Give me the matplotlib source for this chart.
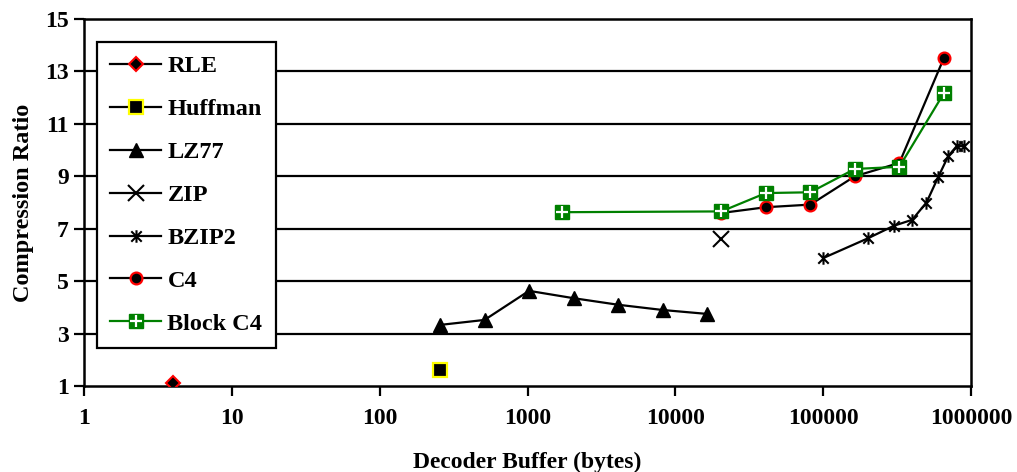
import matplotlib
matplotlib.use("Agg")
import matplotlib.pyplot as plt
from matplotlib.path import Path
from matplotlib.legend_handler import HandlerTuple

rle_x = [4]
rle_y = [1.1]
huff_x = [256]
huff_y = [1.6]
lz77_x = [256, 512, 1024, 2048, 4096, 8192, 16384]
lz77_y = [3.33, 3.52, 4.63, 4.35, 4.1, 3.9, 3.75]
zip_x = [20480]
zip_y = [6.6]
bzip2_x = [100000, 200000, 300000, 400000, 500000, 600000, 700000, 800000, 900000]
bzip2_y = [5.88, 6.63, 7.11, 7.34, 8.0, 8.97, 9.76, 10.15, 10.15]
c4_x = [20480, 40960, 81920, 163840, 327680, 655360]
c4_y = [7.6, 7.82, 7.92, 9.0, 9.51, 13.51]
bc4_x = [1700, 20480, 40960, 81920, 163840, 327680, 655360]
bc4_y = [7.63, 7.66, 8.36, 8.39, 9.28, 9.36, 12.17]

x_ticks = [1, 10, 100, 1000, 10000, 100000, 1000000]
x_labels = ["1", "10", "100", "1000", "10000", "100000", "1000000"]
y_ticks = [1, 3, 5, 7, 9, 11, 13, 15]

plt.rcParams['font.family'] = ['Liberation Serif', 'DejaVu Serif']
plt.rcParams['font.weight'] = 'bold'

fig = plt.figure(figsize=(10.17, 4.72), dpi=100)
ax = fig.add_axes([84/1017, 1-386/472, (971-84)/1017, (386-19)/472])

star = Path([(-1, -1), (1, 1), (-1, 1), (1, -1), (0, -1.2), (0, 1.2)],
            [Path.MOVETO, Path.LINETO, Path.MOVETO, Path.LINETO, Path.MOVETO, Path.LINETO])

lw = 1.6
h_rle, = ax.plot(rle_x, rle_y, '-', color='black', lw=lw, marker='D', ms=7.5,
                 mfc='black', mec='red', mew=1.5, label='RLE', zorder=5)
h_huf, = ax.plot(huff_x, huff_y, '-', color='black', lw=lw, marker='s', ms=9.5,
                 mfc='black', mec='#ffff00', mew=1.6, label='Huffman', zorder=5)
h_lz, = ax.plot(lz77_x, lz77_y, '-', color='black', lw=lw, marker='^', ms=9.5,
                mfc='black', mec='black', label='LZ77', zorder=5)
h_zip, = ax.plot(zip_x, zip_y, '-', color='black', lw=lw, marker='x', ms=11,
                 mec='black', mew=1.5, label='ZIP', zorder=5)
h_bz, = ax.plot(bzip2_x, bzip2_y, '-', color='black', lw=lw, marker=star, ms=9,
                mec='black', mew=1.5, label='BZIP2', zorder=5)
h_c4, = ax.plot(c4_x, c4_y, '-', color='black', lw=lw, marker='o', ms=8.5,
                mfc='black', mec='red', mew=1.6, label='C4', zorder=5)
h_bc4, = ax.plot(bc4_x, bc4_y, '-', color='#008000', lw=lw, marker='s', ms=10,
                 mfc='#008000', mec='#008000', zorder=6)
h_bc4p, = ax.plot(bc4_x, bc4_y, 'none', marker='+', ms=8, mec='white', mew=1.6, zorder=7)

ax.set_xscale('log')
ax.set_xlim(1, 1000000)
ax.set_ylim(1, 15)
ax.set_xticks(x_ticks)
ax.set_xticklabels(x_labels)
ax.minorticks_off()
ax.set_yticks(y_ticks)
for yv in y_ticks[1:-1]:
    ax.axhline(yv, color='black', lw=1.6, zorder=1)

for s in ax.spines.values():
    s.set_linewidth(1.8)
ax.tick_params(axis='both', direction='out', length=7, width=1.6, labelsize=17, pad=9)
ax.tick_params(axis='y', pad=4)
for t in ax.get_xticklabels() + ax.get_yticklabels():
    t.set_fontweight('bold')

ax.set_xlabel('Decoder Buffer (bytes)', fontsize=17, fontweight='bold', labelpad=16)
ax.set_ylabel('Compression Ratio', fontsize=17.5, fontweight='bold', labelpad=8)

handles = [h_rle, h_huf, h_lz, h_zip, h_bz, h_c4, (h_bc4, h_bc4p)]
labels = ['RLE', 'Huffman', 'LZ77', 'ZIP', 'BZIP2', 'C4', 'Block C4']
leg = ax.legend(handles, labels, loc='upper left', bbox_to_anchor=(13/887, 1-23/367),
                frameon=True, fancybox=False, edgecolor='black', framealpha=1,
                prop={'family': 'Liberation Serif', 'weight': 'bold', 'size': 17.5},
                handlelength=2.1, handletextpad=0.25, labelspacing=0.86, borderpad=0.55,
                borderaxespad=0.0,
                handler_map={tuple: HandlerTuple(ndivide=1)})
leg.get_frame().set_linewidth(1.6)
leg.set_zorder(10)

fig.savefig('out.png', dpi=100)
